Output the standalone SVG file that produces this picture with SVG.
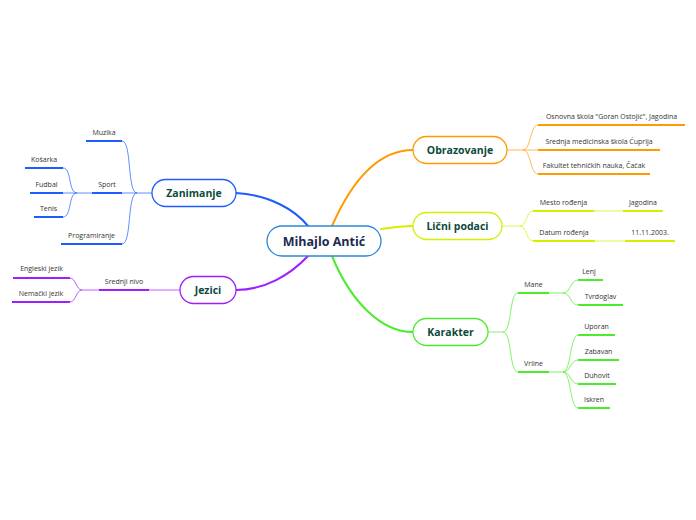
<svg xmlns="http://www.w3.org/2000/svg" width="696" height="520" viewBox="0 0 696 520">
<style>
.bg{fill:#ffffff}
.node{fill:#ffffff;stroke-width:1.3}
.title{font-family:"Open Sans","Noto Sans",sans-serif;font-weight:bold;font-size:10.5px;fill:#0d4a3c;text-anchor:middle}
.central{font-family:"Open Sans","Noto Sans",sans-serif;font-weight:bold;font-size:12.5px;fill:#1b2a4e;text-anchor:middle}
.leaf{font-family:"Open Sans","Noto Sans",sans-serif;font-size:7px;fill:#333333;text-anchor:middle}
.main{fill:none;stroke-width:2;stroke-linecap:round}
.sub{fill:none;stroke-width:1;opacity:0.7}
.ul{fill:none;stroke-width:2}
.blue{stroke:#1f5cff}
.purple{stroke:#9d1fff}
.orange{stroke:#ff9a00}
.lime{stroke:#d4f000}
.green{stroke:#4cec2c}
</style>
<rect class="bg" width="696" height="520"/>
<g id="connectors">
  <path class="main blue" d="M236,193 C270,195 295,210 308,226"/>
  <path class="main orange" d="M332,226 C350,185 375,150 413,150"/>
  <path class="main lime" d="M381,229 C395,227 403,226 413,226"/>
  <path class="main green" d="M332,256 C350,300 380,332 413,332"/>
  <path class="main purple" d="M308,256 C290,275 265,290 236,290"/>
  <!-- Zanimanje -->
  <path class="sub blue" d="M152,193 L137,193"/>
  <path class="sub blue" d="M137,193 C127,193 132,141 122,141"/>
  <path class="sub blue" d="M137,193 L122,193"/>
  <path class="sub blue" d="M137,193 C127,193 132,244 122,244"/>
  <path class="sub blue" d="M92,193 L77,193"/>
  <path class="sub blue" d="M77,193 C68,193 72,168 63,168"/>
  <path class="sub blue" d="M77,193 L63,193"/>
  <path class="sub blue" d="M77,193 C68,193 72,217 63,217"/>
  <!-- Jezici -->
  <path class="sub purple" d="M180,290 L149,290"/>
  <path class="sub purple" d="M99,290 L82,290"/>
  <path class="sub purple" d="M82,290 C76,290 76,278 70,278"/>
  <path class="sub purple" d="M82,290 C76,290 76,302 70,302"/>
  <!-- Obrazovanje -->
  <path class="sub orange" d="M507,150 L523,150"/>
  <path class="sub orange" d="M523,150 C531,150 530,125 538,125"/>
  <path class="sub orange" d="M523,150 L538,150"/>
  <path class="sub orange" d="M523,150 C531,150 530,174 538,174"/>
  <!-- Licni podaci -->
  <path class="sub lime" d="M502,226 L520,226"/>
  <path class="sub lime" d="M520,226 C527,226 526,211 533,211"/>
  <path class="sub lime" d="M520,226 C527,226 526,241 533,241"/>
  <path class="sub lime" d="M594,211 L623,211"/>
  <path class="sub lime" d="M595,241 L625,241"/>
  <!-- Karakter -->
  <path class="sub green" d="M488,332 L503,332"/>
  <path class="sub green" d="M503,332 C512,332 509,293 518,293"/>
  <path class="sub green" d="M503,332 C512,332 509,372 518,372"/>
  <path class="sub green" d="M549,293 L563,293"/>
  <path class="sub green" d="M563,293 C571,293 570,280 578,280"/>
  <path class="sub green" d="M563,293 C571,293 570,305 578,305"/>
  <path class="sub green" d="M549,372 L563,372"/>
  <path class="sub green" d="M563,372 C571,372 570,335 578,335"/>
  <path class="sub green" d="M563,372 C571,372 570,360 578,360"/>
  <path class="sub green" d="M563,372 C571,372 570,384 578,384"/>
  <path class="sub green" d="M563,372 C571,372 570,408 578,408"/>
</g>
<g id="central">
  <rect class="node" x="267" y="226" width="114" height="30" rx="15" stroke="#2a88d8"/>
  <text class="central" x="324" y="245.5">Mihajlo Antić</text>
</g>
<g id="zanimanje">
  <rect class="node" x="152" y="179.5" width="84" height="27" rx="13.5" stroke="#1f5cff"/>
  <text class="title" x="194" y="197">Zanimanje</text>
</g>
<g id="muzika"><path class="ul blue" d="M86,141 H122"/><text class="leaf" x="104" y="135">Muzika</text></g>
<g id="sport"><path class="ul blue" d="M92,193 H122"/><text class="leaf" x="107" y="186.5">Sport</text></g>
<g id="kosarka"><path class="ul blue" d="M25,168 H63"/><text class="leaf" x="44" y="161.5">Košarka</text></g>
<g id="fudbal"><path class="ul blue" d="M30,193 H63"/><text class="leaf" x="46.5" y="186.5">Fudbal</text></g>
<g id="tenis"><path class="ul blue" d="M34,217 H63"/><text class="leaf" x="48.5" y="210.5">Tenis</text></g>
<g id="programiranje"><path class="ul blue" d="M61,244 H122"/><text class="leaf" x="91.5" y="237.5">Programiranje</text></g>
<g id="jezici">
  <rect class="node" x="180" y="276.5" width="56" height="27" rx="13.5" stroke="#9d1fff"/>
  <text class="title" x="208" y="294">Jezici</text>
</g>
<g id="srednji"><path class="ul purple" d="M99,290 H149"/><text class="leaf" x="124" y="283.5">Srednji nivo</text></g>
<g id="engleski"><path class="ul purple" d="M13,278 H70"/><text class="leaf" x="41.5" y="271">Engleski jezik</text></g>
<g id="nemacki"><path class="ul purple" d="M12,302 H70"/><text class="leaf" x="41" y="295.5">Nemački jezik</text></g>
<g id="obrazovanje">
  <rect class="node" x="413" y="136.5" width="94" height="27" rx="13.5" stroke="#ff9a00"/>
  <text class="title" x="460" y="154">Obrazovanje</text>
</g>
<g id="osnovna"><path class="ul orange" d="M538,125 H685"/><text class="leaf" x="611.5" y="118.5">Osnovna škola "Goran Ostojić", Jagodina</text></g>
<g id="srednja"><path class="ul orange" d="M538,150 H660"/><text class="leaf" x="599" y="143.5">Srednja medicinska škola Ćuprija</text></g>
<g id="fakultet"><path class="ul orange" d="M538,174 H650"/><text class="leaf" x="594" y="167.5">Fakultet tehničkih nauka, Čačak</text></g>
<g id="licni">
  <rect class="node" x="413" y="212.5" width="89" height="27" rx="13.5" stroke="#d4f000"/>
  <text class="title" x="457.5" y="230">Lični podaci</text>
</g>
<g id="mesto"><path class="ul lime" d="M533,211 H594"/><text class="leaf" x="563.5" y="205">Mesto rođenja</text></g>
<g id="jagodina"><path class="ul lime" d="M623,211 H663"/><text class="leaf" x="643" y="205">Jagodina</text></g>
<g id="datum"><path class="ul lime" d="M533,241 H595"/><text class="leaf" x="564" y="235">Datum rođenja</text></g>
<g id="datum-v"><path class="ul lime" d="M625,241 H675"/><text class="leaf" x="650" y="235">11.11.2003.</text></g>
<g id="karakter">
  <rect class="node" x="413" y="318.5" width="75" height="27" rx="13.5" stroke="#4cec2c"/>
  <text class="title" x="450.5" y="336">Karakter</text>
</g>
<g id="mane"><path class="ul green" d="M518,293 H549"/><text class="leaf" x="533.5" y="287">Mane</text></g>
<g id="lenj"><path class="ul green" d="M578,280 H603"/><text class="leaf" x="589" y="274">Lenj</text></g>
<g id="tvrdoglav"><path class="ul green" d="M578,305 H623"/><text class="leaf" x="600.5" y="299">Tvrdoglav</text></g>
<g id="vrline"><path class="ul green" d="M518,372 H549"/><text class="leaf" x="533.5" y="366">Vrline</text></g>
<g id="uporan"><path class="ul green" d="M578,335 H615"/><text class="leaf" x="596.5" y="329">Uporan</text></g>
<g id="zabavan"><path class="ul green" d="M578,360 H619"/><text class="leaf" x="598.5" y="354">Zabavan</text></g>
<g id="duhovit"><path class="ul green" d="M578,384 H616"/><text class="leaf" x="597" y="378">Duhovit</text></g>
<g id="iskren"><path class="ul green" d="M578,408 H610"/><text class="leaf" x="594" y="402">Iskren</text></g>
</svg>
